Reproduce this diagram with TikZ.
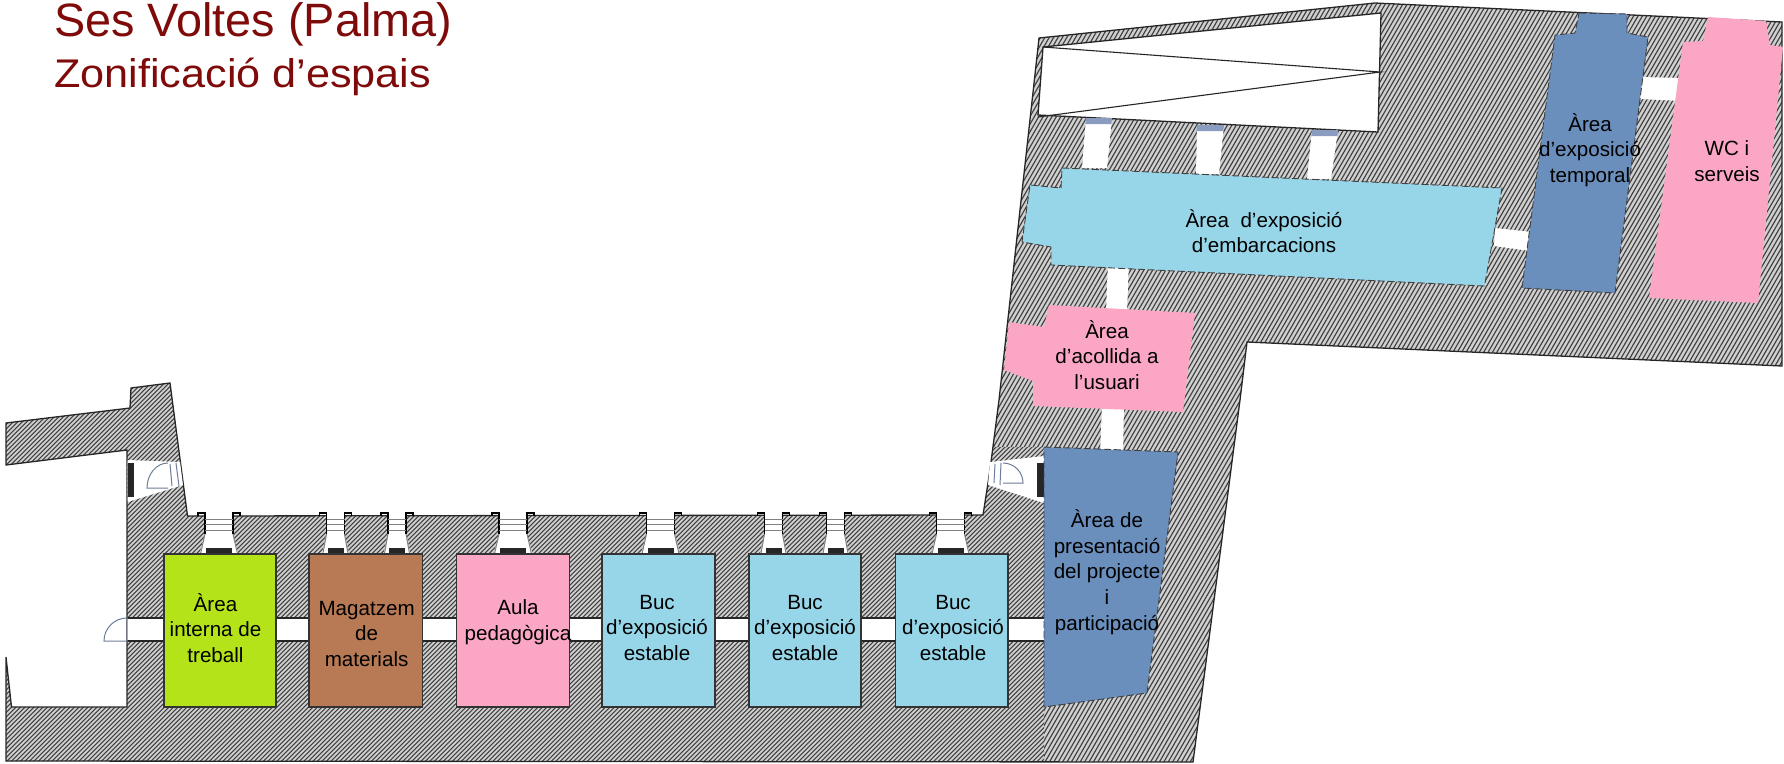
\documentclass[tikz,border=0pt]{standalone}
\usepackage{fontspec}
\setmainfont{Liberation Sans}
\definecolor{hatchbg}{HTML}{D0D0D0}
\definecolor{hatchln}{HTML}{404040}
\definecolor{zgreen}{HTML}{B4E31A}
\definecolor{zbrown}{HTML}{B87A55}
\definecolor{zpink}{HTML}{FBA6C4}
\definecolor{zlight}{HTML}{97D6E9}
\definecolor{zdark}{HTML}{6B8FBC}
\definecolor{ztitle}{HTML}{7F0A0A}
\definecolor{zframe}{HTML}{8A9CC0}
\tikzset{
  wallline/.style={draw=black!85,line width=1.3pt},
  gap/.style={fill=white,draw=none},
  zonebox/.style={draw=black!80,line width=1.2pt},
  zone/.style={draw=none},
  dashzone/.style={draw=black!75,line width=0.9pt,dash pattern=on 7pt off 3pt},
  label/.style={align=center,inner sep=0pt,font=\fontsize{20.6}{25.6}\selectfont,text=black},
  doorline/.style={draw=zframe!80!black,line width=1pt},
}
\newcommand{\corrwin}[3]{% centre, inner half width, flared half width
  \fill[white] (#1-#2,514) -- (#1+#2,514) -- (#1+#2,534) -- (#1+#3,556) -- (#1-#3,556) -- (#1-#2,534) -- cycle;
  \draw[black,line width=1.3pt] (#1-#2-7,516) -- (#1-#2-7,513) -- (#1-#2,513) -- (#1-#2,534);
  \draw[black,line width=1.3pt] (#1+#2+7,516) -- (#1+#2+7,513) -- (#1+#2,513) -- (#1+#2,534);
  \draw[gray,line width=1pt] (#1-#2,519) -- (#1+#2,519) (#1-#2,524) -- (#1+#2,524) (#1-#2,530) -- (#1+#2,530);
  \draw[gray,line width=1pt] (#1-#2,534) -- (#1-#3+1,556) (#1+#2,534) -- (#1+#3-1,556);
  \fill[black!85] (#1-#2+1,548) rectangle (#1+#2-1,555);
}
\newcommand{\upwin}[8]{% four corners of a window in the north wall
  \fill[white] (#1,#2) -- (#3,#4) -- (#5,#6) -- (#7,#8) -- cycle;
  \fill[zframe] (#1,#2) -- (#3,#4) -- (#3-0.6,#4+6) -- (#1-0.6,#2+6) -- cycle;
}
\newcommand{\wallpath}{(6,423) -- (130,408) -- (131,388) -- (170,383) -- (187.5,516) -- (983,515) -- (988,483) -- (991,462) -- (999,400) -- (1039,38) -- (1375,3) -- (1782,22) -- (1782,366) -- (1247,342) -- (1240,400) -- (1193,762) -- (6,761) -- (6,657) -- (11.5,707) -- (127,707) -- (127,450) -- (6,465) -- cycle}
\begin{document}
\begin{tikzpicture}[x=1pt,y=-1pt]
\useasboundingbox (0,0) rectangle (1784,763);
% wall mass
\fill[hatchbg] \wallpath;
\begin{scope}
  \clip \wallpath;
  \begin{scope}
    \clip (0,370) -- (990,370) -- (990,447) -- (1044,447) -- (1044,763) -- (0,763) -- cycle;
    \foreach \i in {-400,-395.5,...,1100}
      \draw[hatchln,line width=1.05pt] (\i,763) -- (\i+400,363);
  \end{scope}
  \begin{scope}
    \clip (1784,0) -- (985,0) -- (985,447) -- (1044,447) -- (1044,763) -- (1784,763) -- cycle;
    \foreach \i in {600,604.4,...,1800}
      \draw[hatchln,line width=1.15pt] (\i,763) -- (\i+440,0);
  \end{scope}
\end{scope}
\draw[wallline] \wallpath;
% north room
\draw[wallline,fill=white] (1043,47) -- (1381,13) -- (1378,132) -- (1038,115) -- cycle;
\draw[black!85,line width=1.1pt] (1043,47) -- (1380,72) -- (1038,117);
% corridors
\fill[gap] (127,618) rectangle (1045,641);
\draw[black!85,line width=1.1pt] (127,618) -- (1045,618) (127,641) -- (1045,641);
\fill[gap] (1108,260) -- (1129,260) -- (1127,312) -- (1106,312) -- cycle;
\fill[gap] (1102,405) -- (1124,405) -- (1123,455) -- (1100,455) -- cycle;
\fill[gap] (1495,228) -- (1532,232) -- (1530,251) -- (1494,246) -- cycle;
\fill[gap] (1640,77) -- (1684,78) -- (1682,101) -- (1640,99) -- cycle;
% south-west door
\fill[white] (127.5,460) -- (180,462) -- (183,485) -- (127.5,502) -- cycle;
\fill[black!85] (128,463) rectangle (134,497);
\draw[doorline] (170,464) -- (172,486) (176,463) -- (179,486);
\draw[doorline] (168,463) arc[start angle=-90,end angle=-180,x radius=21,y radius=25] -- (168,488);
% south-east door
\fill[white] (990,462) -- (1044,456) -- (1044,503) -- (988,485) -- cycle;
\fill[black!85] (1037,463) rectangle (1044,497);
\draw[doorline] (995,464) -- (994,483) (1001,463) -- (1000,485);
\draw[doorline] (1003,463) arc[start angle=-90,end angle=0,radius=20] -- (1003,483);
% west corridor door
\draw[doorline] (127,618) arc[start angle=-90,end angle=-180,radius=23] -- (127,641) -- cycle;
% windows of the south wall
\corrwin{219}{14}{20}
\corrwin{335.5}{9}{14}
\corrwin{397}{9}{14}
\corrwin{513}{14}{20}
\corrwin{660.5}{14}{20}
\corrwin{773.5}{9}{14}
\corrwin{835.5}{9}{14}
\corrwin{950.5}{14}{20}
% windows of the north wall
\upwin{1086}{118}{1112}{118}{1107}{168}{1082}{168}
\upwin{1197}{125}{1224}{125}{1219}{174}{1196}{174}
\upwin{1312}{130}{1338}{130}{1331}{179}{1307}{179}
% zones
\fill[zgreen,zonebox] (164,554) rectangle (276,707);
\fill[zbrown,zonebox] (309,554) rectangle (422.5,707);
\fill[zpink,zonebox] (456.5,554) rectangle (569.5,707);
\fill[zlight,zonebox] (602,554) rectangle (715,707);
\fill[zlight,zonebox] (749,554) rectangle (861,707);
\fill[zlight,zonebox] (895.5,554) rectangle (1008,707);
\fill[zdark,dashzone] (1044,447) -- (1178,452) -- (1147,693) -- (1044,707) -- cycle;
\fill[zpink,zone] (1049,305) -- (1195,313) -- (1183,412) -- (1033,406) -- (1033,381) -- (1004,370) -- (1009,322) -- (1044,327) -- cycle;
\fill[zlight,dashzone] (1062,168) -- (1502,188) -- (1484.5,286) -- (1051,265) -- (1051,247) -- (1022,242) -- (1030,185) -- (1061,188) -- cycle;
\fill[zdark,dashzone] (1579,13) -- (1627,14) -- (1627,33) -- (1648,37) -- (1615,293) -- (1522,288) -- (1555,35) -- (1575,33) -- cycle;
\fill[zpink,zone] (1708,17) -- (1766,21) -- (1770,45) -- (1783,47) -- (1758,303) -- (1649,298) -- (1683,42) -- (1703,41) -- cycle;
% texts
\node[anchor=base west,inner sep=0pt,text=ztitle,font=\fontsize{46.8}{47}\selectfont] (title) at (54,36) {Ses Voltes (Palma)};
\node[anchor=base west,inner sep=0pt,text=ztitle,font=\fontsize{40}{40}\selectfont,xscale=1.08,transform shape] (subtitle) at (54,87) {Zonificació d’espais};
\node[label] (intern) at (215.5,628) {Àrea\\interna de\\treball};
\node[label] (magatzem) at (366.6,634) {Magatzem\\de\\materials};
\node[label] (aula) at (518,622) {Aula\\pedagògica};
\node[label] (buca) at (657,628) {Buc\\d’exposició\\estable};
\node[label] (bucb) at (805,628) {Buc\\d’exposició\\estable};
\node[label] (bucc) at (953,628) {Buc\\d’exposició\\estable};
\node[label] (present) at (1107,572) {Àrea de\\presentació\\del projecte\\i\\participació};
\node[label] (acollida) at (1107,355) {Àrea\\d’acollida a\\l’usuari};
\node[label] (embarc) at (1264,231) {Àrea\ \ d’exposició\\d’embarcacions};
\node[label] (temporal) at (1590,150) {Àrea\\d’exposició\\temporal};
\node[label] (wc) at (1727,161) {WC i\\serveis};
\end{tikzpicture}
\end{document}
